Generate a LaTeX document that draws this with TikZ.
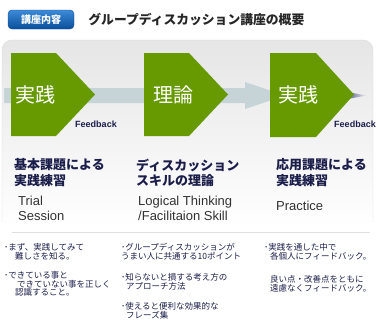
\documentclass[tikz,border=0pt]{standalone}
\usepackage{fontspec}
\setmainfont{Liberation Sans}
\newfontfamily\jp{Noto Sans CJK JP}
\usetikzlibrary{positioning}
\definecolor{leaf}{HTML}{679A01}
\definecolor{ink}{HTML}{1B1E4B}
\definecolor{band}{HTML}{C6D4D7}
\definecolor{badgetop}{HTML}{3C8AD8}
\definecolor{badgebot}{HTML}{0A4E9B}

\begin{document}
\begin{tikzpicture}[
  x=1pt,y=-1pt,
  badge/.style={rounded corners=4pt,top color=badgetop,bottom color=badgebot,draw=badgebot,text=white,font=\jp\bfseries\fontsize{10}{12}\selectfont,minimum width=66pt,minimum height=19pt,inner sep=0pt},
  stage/.style={fill=leaf},
  stagetext/.style={text=white,font=\jp\fontsize{20}{22}\selectfont,inner sep=0pt},
  fb/.style={text=ink,font=\bfseries\fontsize{9}{10}\selectfont,inner sep=0pt},
  head/.style={anchor=north west,align=left,inner sep=0pt,text=ink,font=\jp\bfseries\fontsize{13}{15.5}\selectfont},
  en/.style={anchor=north west,align=left,inner sep=0pt,text=black!80,font=\fontsize{13}{15}\selectfont},
  note/.style={anchor=north west,align=left,inner sep=0pt,text=ink,font=\jp\fontsize{8.5}{8.7}\selectfont}
]
\useasboundingbox (0,0) rectangle (380,330);
\node[badge] (tag) at (41,19.5) {講座内容};
\node[right=14pt of tag,inner sep=0pt,text=black!85,font=\jp\bfseries\fontsize{12.8}{15}\selectfont] (title) {グループディスカッション講座の概要};

\shade[rounded corners=10pt,top color=black!10,bottom color=white] (2,228) |- (373,40) -- (373,228) -- cycle;
\draw[black!14,rounded corners=10pt] (2,222) |- (373,40) -- (373,222);
\draw[black!12,line width=1pt] (12,232) -- (370,232);

\fill[band] (4,88) -- (245,88) -- (245,82) -- (285,95.5) -- (245,109) -- (245,103) -- (4,103) -- cycle;
\shade[left color=band!80!blue!70!black,right color=black!5] (350,92.5) -- (367,95.5) -- (350,98.5) -- cycle;

\fill[stage] (11,53) -- (56,53) -- (95,94.5) -- (56,136) -- (11,136) -- cycle;
\fill[stage] (144,53) -- (189,53) -- (228,94.5) -- (189,136) -- (144,136) -- cycle;
\fill[stage] (270,53) -- (316,53) -- (354,94.5) -- (316,137) -- (270,137) -- cycle;
\node[stagetext] (s1) at (35,95) {実践};
\node[stagetext] (s2) at (173,95) {理論};
\node[stagetext] (s3) at (298,95) {実践};
\node[fb] (fb1) at (96,124) {Feedback};
\node[fb] (fb3) at (355,124) {Feedback};

\node[head] (h1) at (14,158.5) {基本課題による\\実践練習};
\node[head] (h2) at (136,158.5) {ディスカッション\\スキルの理論};
\node[head] (h3) at (276,158.5) {応用課題による\\実践練習};
\node[en] (e1) at (18,196) {Trial\\Session};
\node[en] (e2) at (138,196) {Logical Thinking\\/Facilitaion Skill};
\node[en] (e3) at (276,201) {Practice};

\node[note] (n1) at (4,243) {･まず、実践してみて\\\hspace*{11pt}難しさを知る。};
\node[note] (n2) at (4,271) {･できている事と\\\hspace*{13pt}できていない事を正しく\\\hspace*{11pt}認識すること。};
\node[note] (n3) at (121,243) {･グループディスカッションが\\うまい人に共通する10ポイント};
\node[note] (n4) at (121,273) {･知らないと損する考え方の\\\hspace*{5pt}アプローチ方法};
\node[note] (n5) at (121,302) {･使えると便利な効果的な\\\hspace*{5pt}フレーズ集};
\node[note] (n6) at (264,243) {･実践を通した中で\\\hspace*{6pt}各個人にフィードバック。};
\node[note] (n7) at (270,275) {良い点・改善点をともに\\遠慮なくフィードバック。};
\end{tikzpicture}
\end{document}
